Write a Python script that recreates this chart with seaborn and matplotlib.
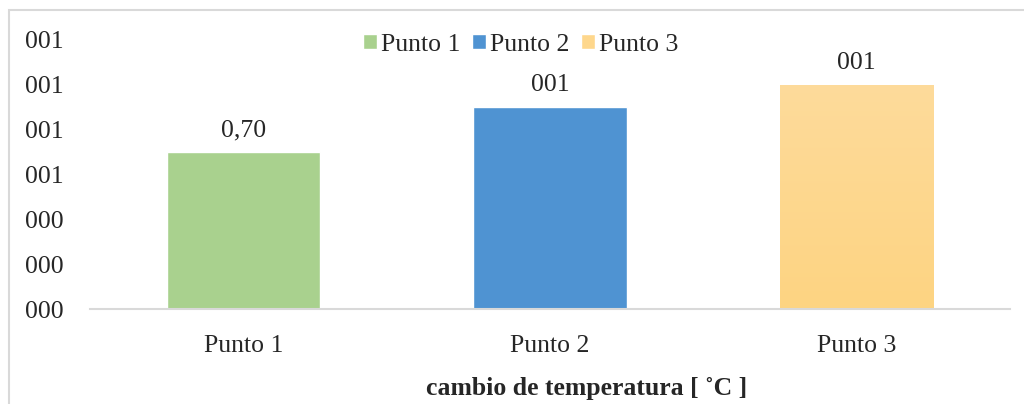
import numpy as np
import pandas as pd
import seaborn as sns
import matplotlib.pyplot as plt
from matplotlib.patches import Rectangle
from matplotlib.colors import LinearSegmentedColormap

# data
categories = ["Punto 1", "Punto 2", "Punto 3"]
values = [0.70, 0.90, 1.00]
bar_labels = ["0,70", "001", "001"]
y_ticks = [0.0, 0.2, 0.4, 0.6, 0.8, 1.0, 1.2]
y_tick_labels = ["000", "000", "000", "001", "001", "001", "001"]
colors = ["#A9D18E", "#4F93D2", "#FED78C"]

df = pd.DataFrame({"punto": categories, "valor": values})

sns.set_theme(style="white")
plt.rcParams["font.family"] = ["Liberation Serif", "DejaVu Serif"]
fs = 18.5

fig = plt.figure(figsize=(10.24, 4.04), dpi=100)
ax = fig.add_axes([90 / 1024, 1 - 309 / 404, 920 / 1024, 269 / 404])

sns.barplot(data=df, x="punto", y="valor", hue="punto", palette=colors,
            width=0.5, legend=True, ax=ax, saturation=1)

# gradient on the third bar
bar3 = ax.patches[2]
x0, y0 = bar3.get_x(), bar3.get_y()
w, h = bar3.get_width(), bar3.get_height()
grad = LinearSegmentedColormap.from_list("g", ["#FED482", "#FDDB9B"])
img = ax.imshow(np.linspace(0, 1, 256).reshape(-1, 1), cmap=grad, origin="lower",
                extent=[x0, x0 + w, y0, y0 + h], aspect="auto", zorder=bar3.get_zorder() + 0.1)
img.set_clip_path(bar3)

ax.set_xlim(-0.5, 2.5)
ax.set_ylim(0, 1.2)
ax.set_yticks(y_ticks)
ax.set_yticklabels(y_tick_labels, fontsize=fs)
ax.tick_params(axis="y", length=0, pad=19)
ax.tick_params(axis="x", length=0, pad=19, labelsize=fs)

for i, c in enumerate(ax.containers):
    ax.bar_label(c, labels=[bar_labels[i]], padding=8, fontsize=fs)

sns.despine(ax=ax, left=True, top=True, right=True)
ax.spines["bottom"].set_color("#D9D9D9")
ax.spines["bottom"].set_linewidth(1.5)

ax.set_ylabel("")
ax.set_xlabel("cambio de temperatura [ ˚C ]", fontsize=fs, fontweight="bold")
ax.xaxis.set_label_coords(0.54, -0.254)

leg = ax.legend(loc="upper center", bbox_to_anchor=(0.468, 1.11), ncol=3, frameon=False,
                fontsize=fs, handlelength=0.55, handleheight=0.55, handletextpad=0.15,
                columnspacing=0.45)

# outer chart border (cropped at right/bottom)
fig.patches.append(Rectangle((9 / 1024, -0.05), 1.1, 1 - 10 / 404 + 0.05,
                             transform=fig.transFigure, fill=False,
                             edgecolor="#D9D9D9", linewidth=1.5))

fig.savefig("out.png", dpi=100)
